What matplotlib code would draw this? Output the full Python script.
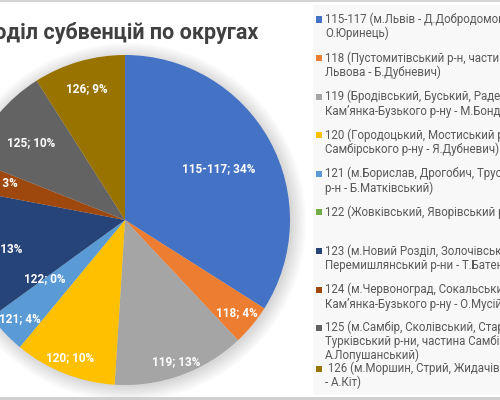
import numpy as np
import matplotlib.pyplot as plt
from matplotlib.patches import Rectangle, Circle

plt.rcParams['font.family'] = ['Roboto', 'DejaVu Sans']

# district codes and share of subventions, %
districts = ['115-117', '118', '119', '120', '121', '122', '123', '124', '125', '126']
shares = [34, 4, 13, 10, 4, 0, 13, 3, 10, 9]

legend_labels = [
    '115-117 (м.Львів - Д.Добродомов, І.\nО.Юринець)',
    '118 (Пустомитівський р-н, частина Л\nЛьвова - Б.Дубневич)',
    '119 (Бродівський, Буський, Радехівс\nКам\u2019янка-Бузького р-ну - М.Бондар)',
    '120 (Городоцький, Мостиський р-ни\nСамбірського р-ну - Я.Дубневич)',
    '121 (м.Борислав, Дрогобич, Трускав\nр-н - Б.Матківський)',
    '122 (Жовківський, Яворівський р-ни',
    '123 (м.Новий Розділ, Золочівський,\nПеремишлянський р-ни - Т.Батенко)',
    '124 (м.Червоноград, Сокальський р\nКам\u2019янка-Бузького р-ну - О.Мусій)',
    '125 (м.Самбір, Сколівський, Староса\nТурківський р-ни, частина Самбірсь\nА.Лопушанський)',
    ' 126 (м.Моршин, Стрий, Жидачівськ\n- А.Кіт)',
]

colors = ['#4472C4', '#ED7D31', '#A5A5A5', '#FFC000', '#5B9BD5',
          '#70AD47', '#264478', '#9E480E', '#636363', '#997300']

# how far from the centre each data label sits (fraction of radius)
label_r = [0.65, 0.88, 0.91, 0.9, 0.87, 0.6, 0.79, 0.81, 0.74, 0.83]

W, H = 500, 400
fig = plt.figure(figsize=(5, 4), dpi=100)
fig.patch.set_facecolor('white')

# light legend panel and the frame lines of the screenshot
fig.patches.append(Rectangle((313 / W, 5 / H), 187 / W, 390 / H, transform=fig.transFigure,
                             facecolor='#f8f8f8', edgecolor='none', zorder=0))
fig.patches.append(Rectangle((0, 0), 1, 3 / H, transform=fig.transFigure,
                             facecolor='#cfcfcf', edgecolor='none', zorder=0))
fig.patches.append(Rectangle((0, 1 - 2 / H), 1, 2 / H, transform=fig.transFigure,
                             facecolor='#d4d4d4', edgecolor='none', zorder=0))

# pie axes: centre (125, 220) px, radius 165 px
cx, cy, R = 125, 220, 165
ax = fig.add_axes([(cx - R) / W, (H - cy - R) / H, 2 * R / W, 2 * R / H])

wedges, _ = ax.pie(shares, colors=colors, startangle=90, counterclock=False,
                   radius=1, wedgeprops=dict(linewidth=0))
ax.set_xlim(-1, 1)
ax.set_ylim(-1, 1)
ax.axis('off')
for w in wedges:
    w.set_zorder(2)
    w.set_clip_on(False)

# soft shadow
for k in range(8):
    ax.add_patch(Circle((0.012, -0.012), 1 + 0.012 * k, facecolor='black',
                        alpha=0.018, edgecolor='none', zorder=0, clip_on=False))

for w, name, val, r in zip(wedges, districts, shares, label_r):
    mid = np.deg2rad((w.theta1 + w.theta2) / 2)
    ax.text(r * np.cos(mid), r * np.sin(mid), f'{name}; {val}%',
            ha='center', va='center', color='white', fontsize=8.5,
            fontweight='bold', zorder=3, clip_on=False)

# title, cropped on the left like the screenshot
fig.text(258 / W, 1 - 33 / H, 'Розподіл субвенцій по округах', ha='right', va='center',
         fontsize=15.5, fontweight='bold', color='#404040')

# legend, fixed slots (last two squeezed like in the original)
for i, (lab, col) in enumerate(zip(legend_labels, colors)):
    y = 19 + 38.6 * i
    if i == 8:
        y = 327
    if i == 9:
        y = 368
    fig.patches.append(Rectangle((316 / W, 1 - (y + 3.5) / H), 6 / W, 6 / H,
                                 transform=fig.transFigure, facecolor=col,
                                 edgecolor='none', zorder=2))
    fig.text(325 / W, 1 - (y - 6.5) / H, lab, ha='left', va='top', fontsize=8.3,
             color='#595959', linespacing=1.1)

fig.savefig('out.png', dpi=100)
